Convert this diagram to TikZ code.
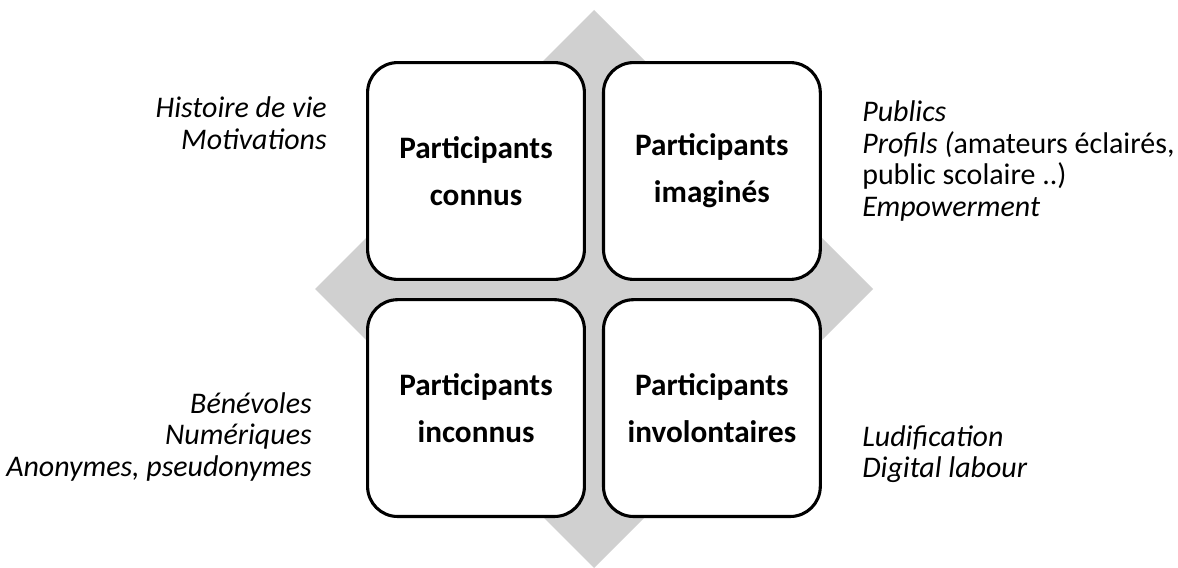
\documentclass[tikz,border=0pt]{standalone}
\usepackage{fontspec}
\setmainfont{Carlito}
\usetikzlibrary{positioning}
\definecolor{losange}{RGB}{208,208,208}

\tikzset{
  quadrant/.style={draw, line width=2.2pt, rounded corners=0.75cm, fill=white,
    minimum width=5.42cm, minimum height=5.42cm, align=center,
    font=\fontsize{22.2}{33.4}\selectfont\bfseries},
  remarque/.style={inner sep=0pt, font=\fontsize{21.3}{22.4}\selectfont\itshape}
}

\begin{document}
\begin{tikzpicture}
\useasboundingbox (0,0) rectangle (29.45,14.175);

% fond gris
\fill[losange] (14.85,13.925) -- (21.825,6.95) -- (14.85,-0.025) -- (7.875,6.95) -- cycle;

% les quatre cases
\node[quadrant] (connus) at (11.9,9.9) {Participants\\connus};
\node[quadrant, right=0.4cm of connus] (imagines) {Participants\\imaginés};
\node[quadrant, below=0.43cm of connus] (inconnus) {Participants\\inconnus};
\node[quadrant, right=0.4cm of inconnus] (involontaires) {Participants\\involontaires};

% remarques
\node[remarque, anchor=east, align=right] (vie) at (8.175,11.1) {Histoire de vie\\Motivations};
\node[remarque, anchor=west, align=left] (publics) at (21.55,10.15)
  {Publics\\Profils (\upshape amateurs éclairés,\\{\upshape public scolaire ..)}\\Empowerment};
\node[remarque, anchor=east, align=right] (benevoles) at (7.8,3.25) {Bénévoles\\Numériques\\Anonymes, pseudonymes};
\node[remarque, anchor=west, align=left] (ludification) at (21.55,2.825) {Ludification\\Digital labour};
\end{tikzpicture}
\end{document}
